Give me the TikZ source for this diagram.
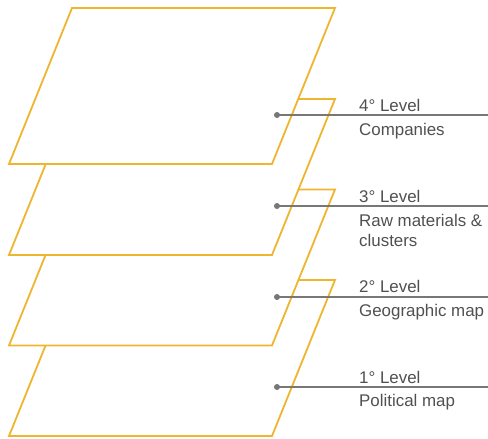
\documentclass[tikz,border=0pt]{standalone}
\usepackage{fontspec}
\setmainfont{Liberation Sans}
\definecolor{layeryellow}{HTML}{EEB52E}
\definecolor{leadgray}{HTML}{777777}
\definecolor{textgray}{HTML}{505050}
\begin{document}
\begin{tikzpicture}[x=1pt,y=-1pt,
  layer/.style={draw=layeryellow,line width=1.8pt,fill=white,line join=miter},
  leader/.style={draw=leadgray,line width=1.5pt},
  dot/.style={circle,fill=leadgray,inner sep=0pt,minimum size=6pt},
  lbl/.style={anchor=base west,inner sep=0pt,text=textgray,font=\fontsize{16.9}{20}\selectfont}]
\useasboundingbox (0,0) rectangle (488,439);
% layers from bottom to top
\foreach \o in {272,181.5,91,0}{
  \draw[layer] (72,8+\o) -- (335,8+\o) -- (272,164+\o) -- (9,164+\o) -- cycle;
}
% level 4
\node[dot] (d4) at (277,115) {};
\coordinate (e4) at (488,115);
\draw[leader] (d4.center) -- (e4);
\node[lbl] (t4a) at (359,111) {4° Level};
\node[lbl] (t4b) at (359,135) {Companies};
% level 3
\node[dot] (d3) at (277,206) {};
\coordinate (e3) at (488,206);
\draw[leader] (d3.center) -- (e3);
\node[lbl] (t3a) at (359,202) {3° Level};
\node[lbl] (t3b) at (359,226.5) {Raw materials \&};
\node[lbl] (t3c) at (359,246.5) {clusters};
% level 2
\node[dot] (d2) at (277,297) {};
\coordinate (e2) at (488,297);
\draw[leader] (d2.center) -- (e2);
\node[lbl] (t2a) at (359,292.5) {2° Level};
\node[lbl] (t2b) at (359,316) {Geographic map};
% level 1
\node[dot] (d1) at (277,387) {};
\coordinate (e1) at (488,387);
\draw[leader] (d1.center) -- (e1);
\node[lbl] (t1a) at (359,383) {1° Level};
\node[lbl] (t1b) at (359,406) {Political map};
\end{tikzpicture}
\end{document}
